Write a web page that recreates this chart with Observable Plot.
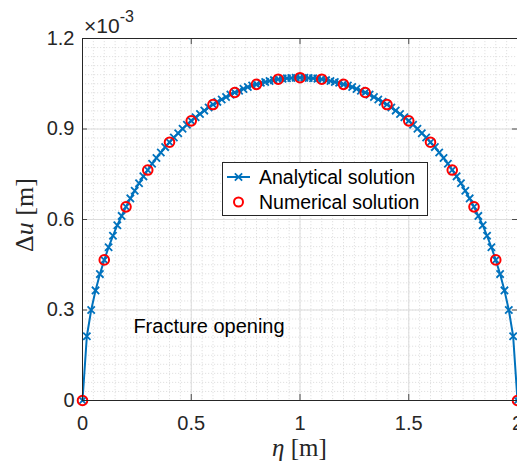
<!DOCTYPE html>
<html>
<head>
<meta charset="utf-8">
<script src="https://cdn.jsdelivr.net/npm/d3@7"></script>
<script src="https://cdn.jsdelivr.net/npm/@observablehq/plot@0.6"></script>
<style>
  html, body { margin: 0; padding: 0; background: #fff; }
  #chart { width: 517px; height: 466px; }
</style>
</head>
<body>
<div id="chart"></div>
<script>
// η [m] positions of the analytical solution
const eta = [0,0.02,0.04,0.06,0.08,0.1,0.12,0.14,0.16,0.18,0.2,0.22,0.24,0.26,0.28,0.3,0.32,0.34,0.36,0.38,0.4,
  0.42,0.44,0.46,0.48,0.5,0.52,0.54,0.56,0.58,0.6,0.62,0.64,0.66,0.68,0.7,0.72,0.74,0.76,0.78,0.8,
  0.82,0.84,0.86,0.88,0.9,0.92,0.94,0.96,0.98,1,1.02,1.04,1.06,1.08,1.1,1.12,1.14,1.16,1.18,1.2,
  1.22,1.24,1.26,1.28,1.3,1.32,1.34,1.36,1.38,1.4,1.42,1.44,1.46,1.48,1.5,1.52,1.54,1.56,1.58,1.6,
  1.62,1.64,1.66,1.68,1.7,1.72,1.74,1.76,1.78,1.8,1.82,1.84,1.86,1.88,1.9,1.92,1.94,1.96,1.98,2];
// Δu [m] ×10^-3, analytical solution
const analytical = [0,0.213,0.300,0.365,0.419,0.466,0.508,0.546,0.581,0.612,0.642,0.670,0.695,0.720,0.743,0.764,0.785,0.804,0.822,0.840,0.856,
  0.872,0.886,0.901,0.914,0.927,0.939,0.950,0.961,0.971,0.981,0.990,0.998,1.006,1.014,1.021,1.027,1.033,1.039,1.044,1.048,
  1.053,1.056,1.059,1.062,1.065,1.067,1.068,1.069,1.070,1.070,1.070,1.069,1.068,1.067,1.065,1.062,1.059,1.056,1.053,1.048,
  1.044,1.039,1.033,1.027,1.021,1.014,1.006,0.998,0.990,0.981,0.971,0.961,0.950,0.939,0.927,0.914,0.901,0.886,0.872,0.856,
  0.840,0.822,0.804,0.785,0.764,0.743,0.720,0.695,0.670,0.642,0.612,0.581,0.546,0.508,0.466,0.419,0.365,0.300,0.213,0];
// η [m] positions of the numerical solution
const etaNum = [0,0.1,0.2,0.3,0.4,0.5,0.6,0.7,0.8,0.9,1,1.1,1.2,1.3,1.4,1.5,1.6,1.7,1.8,1.9,2];
// Δu [m] ×10^-3, numerical solution
const numerical = [0,0.466,0.642,0.764,0.856,0.927,0.981,1.021,1.048,1.065,1.070,1.065,1.048,1.021,0.981,0.927,0.856,0.764,0.642,0.466,0];

const xTicks = [0, 0.5, 1, 1.5, 2];
const yTicks = [0, 0.3, 0.6, 0.9, 1.2];
const seriesNames = ["Analytical solution", "Numerical solution"];
const annotation = "Fracture opening";

const anaData = eta.map((x, i) => ({x, y: analytical[i]}));
const numData = etaNum.map((x, i) => ({x, y: numerical[i]}));

const xMinor = d3.range(0, 2.0001, 0.05).map(v => +v.toFixed(2));
const yMinor = d3.range(0, 1.2001, 0.03).map(v => +v.toFixed(2));

const BLUE = "#0072BD";
const AX = "#262626";
const FONT = "'Liberation Sans', Arial, sans-serif";
const SERIF = "'Liberation Serif', 'DejaVu Serif', serif";

const chart = Plot.plot({
  width: 517,
  height: 466,
  marginLeft: 82,
  marginRight: 0,
  marginTop: 38,
  marginBottom: 66,
  style: {fontFamily: FONT, fontSize: "20px", color: AX, background: "#fff"},
  x: {domain: [0, 2], ticks: xTicks},
  y: {domain: [0, 1.2], ticks: yTicks},
  marks: [
    Plot.ruleX(xMinor, {stroke: "#d9d9d9", strokeDasharray: "1.2,1.8", strokeWidth: 0.8}),
    Plot.ruleY(yMinor, {stroke: "#d9d9d9", strokeDasharray: "1.2,1.8", strokeWidth: 0.8}),
    Plot.ruleX(xTicks, {stroke: "#dcdcdc", strokeWidth: 1}),
    Plot.ruleY(yTicks, {stroke: "#dcdcdc", strokeWidth: 1}),
    Plot.tickX(xTicks, {x: d => d, insetTop: 356, stroke: AX, strokeWidth: 0.8}),
    Plot.tickX(xTicks, {x: d => d, insetBottom: 356, stroke: AX, strokeWidth: 0.8}),
    Plot.tickY(yTicks, {y: d => d, insetRight: 430, stroke: AX, strokeWidth: 0.8}),
    Plot.tickY(yTicks, {y: d => d, insetLeft: 430, stroke: AX, strokeWidth: 0.8}),
    Plot.axisX(xTicks, {tickSize: 0, tickPadding: 15, fontSize: 20, label: null, fill: AX,
      tickFormat: d => String(d)}),
    Plot.axisY(yTicks, {tickSize: 0, tickPadding: 8, fontSize: 20, label: null, fill: AX,
      tickFormat: d => d === 0 ? "0" : d.toFixed(1)}),
    Plot.text([annotation], {x: 0.234, y: 0.245, text: d => d, textAnchor: "start",
      fontSize: 20, fill: "#000", fontFamily: FONT}),
    Plot.line(anaData, {x: "x", y: "y", stroke: BLUE, strokeWidth: 2}),
    Plot.dot(anaData, {x: "x", y: "y", symbol: "times", r: 3.4, stroke: BLUE, strokeWidth: 1.8}),
    Plot.dot(numData, {x: "x", y: "y", r: 4.8, stroke: "#ff0000", strokeWidth: 2, fill: "none"}),
    Plot.frame({stroke: AX, strokeWidth: 1})
  ]
});
document.getElementById("chart").appendChild(chart);

const svg = d3.select(chart);
const sx = chart.scale("x"), sy = chart.scale("y");

// exponent label
const ex = svg.append("text").attr("x", 84).attr("y", 33).attr("text-anchor", "start")
  .style("font-family", FONT).style("font-size", "21px").attr("fill", AX);
ex.append("tspan").style("font-size", "21px").text("×10");
ex.append("tspan").attr("dy", -11).style("font-size", "16px").text("-3");

// y label
const yl = svg.append("text")
  .attr("transform", `translate(33,${sy.apply(0.6) - 4}) rotate(-90)`)
  .attr("text-anchor", "middle")
  .style("font-family", SERIF).style("font-size", "26px").attr("fill", AX);
yl.append("tspan").text("Δ");
yl.append("tspan").attr("font-style", "italic").text("u");
yl.append("tspan").text(" [m]");

// x label
const xl = svg.append("text")
  .attr("x", sx.apply(1)).attr("y", 456)
  .attr("text-anchor", "middle")
  .style("font-family", SERIF).style("font-size", "25px").attr("fill", AX);
xl.append("tspan").attr("font-style", "italic").text("η");
xl.append("tspan").text(" [m]");

// legend
const lg = svg.append("g").attr("text-anchor", "start");
lg.append("rect").attr("x", 222.5).attr("y", 162.5).attr("width", 205).attr("height", 53)
  .attr("fill", "#fff").attr("stroke", AX).attr("stroke-width", 1);
lg.append("line").attr("x1", 227).attr("x2", 250).attr("y1", 177).attr("y2", 177)
  .attr("stroke", BLUE).attr("stroke-width", 2);
lg.append("path").attr("d", d3.symbol(d3.symbolTimes, Math.PI * 3.4 * 3.4)())
  .attr("transform", "translate(238.5,177)").attr("stroke", BLUE).attr("stroke-width", 1.8).attr("fill", "none");
lg.append("circle").attr("cx", 238.5).attr("cy", 202).attr("r", 4.5)
  .attr("stroke", "#ff0000").attr("stroke-width", 2).attr("fill", "none");
lg.append("text").attr("x", 259).attr("y", 184).style("font-family", FONT).style("font-size", "19.5px")
  .attr("fill", "#000").text(seriesNames[0]);
lg.append("text").attr("x", 259).attr("y", 209).style("font-family", FONT).style("font-size", "19.5px")
  .attr("fill", "#000").text(seriesNames[1]);
</script>
</body>
</html>
